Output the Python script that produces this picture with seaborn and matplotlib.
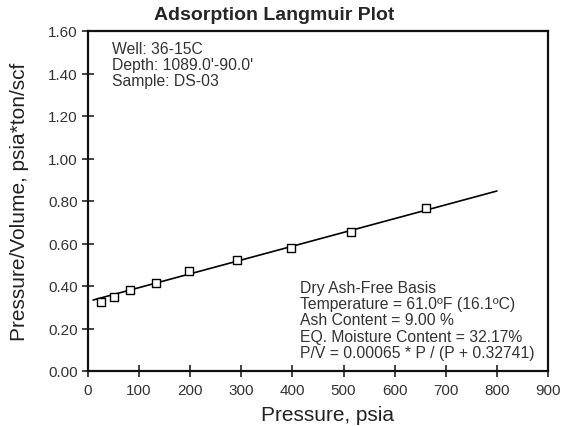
import matplotlib

matplotlib.use('Agg')
import matplotlib.pyplot as plt
import seaborn as sns
import pandas as pd
from matplotlib.ticker import FormatStrFormatter

pressure = [25, 50, 82, 134, 198, 291, 397, 514, 661]
p_over_v = [0.326, 0.347, 0.381, 0.413, 0.469, 0.524, 0.577, 0.656, 0.766]

# fitted Langmuir line end points
fit_pressure = [10, 800]
fit_p_over_v = [0.334, 0.847]

well_info = ["Well: 36-15C", "Depth: 1089.0'-90.0'", "Sample: DS-03"]
basis_info = [
    "Dry Ash-Free Basis",
    "Temperature = 61.0ºF (16.1ºC)",
    "Ash Content = 9.00 %",
    "EQ. Moisture Content = 32.17%",
    "P/V = 0.00065 * P / (P + 0.32741)",
]

sns.set_style("ticks")
plt.rcParams['font.family'] = ['Liberation Sans', 'DejaVu Sans']

df = pd.DataFrame({"P": pressure, "PV": p_over_v})
fit = pd.DataFrame({"P": fit_pressure, "PV": fit_p_over_v})

fig = plt.figure(figsize=(5.75, 4.27), dpi=100)
ax = fig.add_axes([88 / 575, 55 / 427, 460 / 575, 340 / 427])

sns.lineplot(data=fit, x="P", y="PV", color="black", linewidth=1.2, ax=ax)
sns.scatterplot(data=df, x="P", y="PV", marker="s", s=28, facecolor="white",
                edgecolor="black", linewidth=1.0, zorder=3, ax=ax)

ax.set_xlim(0, 900)
ax.set_ylim(0, 1.6)
ax.set_xticks(range(0, 901, 100))
ax.set_yticks([0.2 * i for i in range(9)])
ax.yaxis.set_major_formatter(FormatStrFormatter('%.2f'))
ax.tick_params(direction="inout", length=8, width=1.2, labelsize=11, colors="#222222",
               labelcolor="#333333")
ax.tick_params(axis="x", pad=5)
for sp in ax.spines.values():
    sp.set_linewidth(1.6)
    sp.set_color("#111111")

ax.set_xlabel("Pressure, psia", fontsize=15, color="#222222")
ax.set_ylabel("Pressure/Volume, psia*ton/scf", fontsize=15, color="#222222")
ax.xaxis.set_label_coords(0.52, -0.10)
ax.yaxis.set_label_coords(-0.128, 0.5)

fig.text(274 / 575, 1 - 15 / 427, "Adsorption Langmuir Plot", fontsize=14,
         fontweight="bold", ha="center", va="center")

ax.text(47, 1.555, "\n".join(well_info), fontsize=11.3, color="#333333",
        ha="left", va="top", linespacing=1.12)
ax.text(415, 0.05, "\n".join(basis_info), fontsize=11.3, color="#333333",
        ha="left", va="bottom", linespacing=1.12)

fig.savefig("out.png", dpi=100)
